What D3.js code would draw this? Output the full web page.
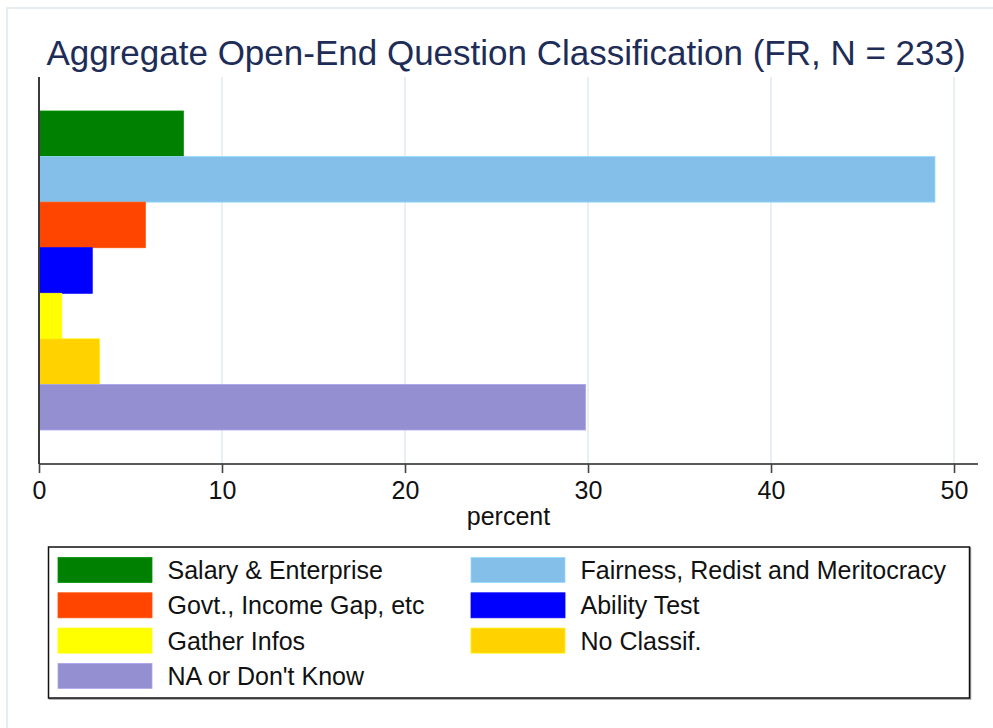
<!DOCTYPE html>
<html>
<head>
<meta charset="utf-8">
<script src="https://cdn.jsdelivr.net/npm/d3@7"></script>
<style>
  html, body { margin: 0; padding: 0; background: #fff; }
  svg { display: block; font-family: "Liberation Sans", Arial, Helvetica, sans-serif; }
</style>
</head>
<body>
<svg id="chart" width="993" height="728"></svg>
<script>
// Response categories, in bar order (top to bottom)
const categories = [
  "Salary & Enterprise",
  "Fairness, Redist and Meritocracy",
  "Govt., Income Gap, etc",
  "Ability Test",
  "Gather Infos",
  "No Classif.",
  "NA or Don't Know"
];
// Share of respondents, percent
const values = [7.89, 48.96, 5.81, 2.91, 1.24, 3.31, 29.87];
// Fill colour per category
const colors = ["#008000", "#83bfe9", "#ff4500", "#0000ff", "#ffff00", "#ffd200", "#948fd1"];
// Horizontal axis ticks
const xTicks = [0, 10, 20, 30, 40, 50];

const titleText = "Aggregate Open-End Question Classification (FR, N = 233)";
const xLabel = "percent";

const svg = d3.select("#chart");
const W = 993, H = 728;

// Plot region
const plot = { left: 39, right: 978, top: 77, bottom: 464 };

// Outer graph frame
svg.append("rect")
  .attr("x", 7).attr("y", 8)
  .attr("width", W).attr("height", H)
  .attr("fill", "none")
  .attr("stroke", "#e6edf2")
  .attr("stroke-width", 2);

const x = d3.scaleLinear()
  .domain([0, 51.31])
  .range([plot.left, plot.right]);

const y = d3.scaleBand()
  .domain(categories)
  .range([plot.top, plot.bottom])
  .paddingInner(0)
  .paddingOuter(0.746);

// Vertical grid lines
svg.append("g")
  .selectAll("line")
  .data(xTicks.filter(t => t > 0))
  .join("line")
  .attr("x1", d => x(d)).attr("x2", d => x(d))
  .attr("y1", plot.top).attr("y2", plot.bottom)
  .attr("stroke", "#e8f0f3")
  .attr("stroke-width", 2);

// Bars
svg.append("g")
  .selectAll("rect")
  .data(categories)
  .join("rect")
  .attr("x", x(0))
  .attr("y", d => y(d))
  .attr("width", (d, i) => x(values[i]) - x(0))
  .attr("height", y.bandwidth())
  .attr("fill", (d, i) => colors[i])
  .attr("stroke", (d, i) => d3.color(colors[i]).brighter(0.4))
  .attr("stroke-width", 0.8);

// Left axis line
svg.append("line")
  .attr("x1", plot.left).attr("x2", plot.left)
  .attr("y1", plot.top).attr("y2", plot.bottom)
  .attr("stroke", "#3a3a3a")
  .attr("stroke-width", 2);

// Bottom axis
const xAxis = d3.axisBottom(x)
  .tickValues(xTicks)
  .tickSize(9)
  .tickPadding(8)
  .tickFormat(d3.format("d"));

const gx = svg.append("g")
  .attr("transform", `translate(0,${plot.bottom})`)
  .call(xAxis);
gx.select(".domain")
  .attr("stroke", "#222")
  .attr("stroke-width", 1.6)
  .attr("d", `M${plot.left},0H${plot.right}`);
gx.selectAll(".tick line").attr("stroke", "#444").attr("stroke-width", 1.6);
gx.selectAll(".tick text")
  .attr("font-size", 25)
  .attr("font-family", "Liberation Sans, Arial, sans-serif")
  .attr("fill", "#111");

// Axis title
svg.append("text")
  .attr("x", (plot.left + plot.right) / 2)
  .attr("y", 525)
  .attr("text-anchor", "middle")
  .attr("font-size", 25)
  .attr("fill", "#111")
  .text(xLabel);

// Chart title
svg.append("text")
  .attr("x", 506)
  .attr("y", 65)
  .attr("text-anchor", "middle")
  .attr("font-size", 35)
  .attr("fill", "#1e2d58")
  .text(titleText);

// Legend
const legend = { x: 48.5, y: 547, w: 921, h: 151 };
svg.append("rect")
  .attr("x", legend.x + 1).attr("y", legend.y + 1)
  .attr("width", legend.w).attr("height", legend.h)
  .attr("fill", "none")
  .attr("stroke", "#9a9a9a")
  .attr("stroke-width", 1.5);
svg.append("rect")
  .attr("x", legend.x).attr("y", legend.y)
  .attr("width", legend.w).attr("height", legend.h)
  .attr("fill", "#fff")
  .attr("stroke", "#111")
  .attr("stroke-width", 1.5);

const colX = [58, 471];
const rowY0 = 557.5, rowStep = 35.3, swW = 94, swH = 25, textGap = 15.5;

const items = svg.append("g")
  .selectAll("g")
  .data(categories)
  .join("g")
  .attr("transform", (d, i) => `translate(${colX[i % 2]},${rowY0 + Math.floor(i / 2) * rowStep})`);

items.append("rect")
  .attr("width", swW).attr("height", swH)
  .attr("fill", (d, i) => colors[i])
  .attr("stroke", (d, i) => d3.color(colors[i]).brighter(0.4))
  .attr("stroke-width", 0.8);

items.append("text")
  .attr("x", swW + textGap)
  .attr("y", swH / 2 + 9)
  .attr("font-size", 25)
  .attr("fill", "#111")
  .text(d => d);
</script>
</body>
</html>
